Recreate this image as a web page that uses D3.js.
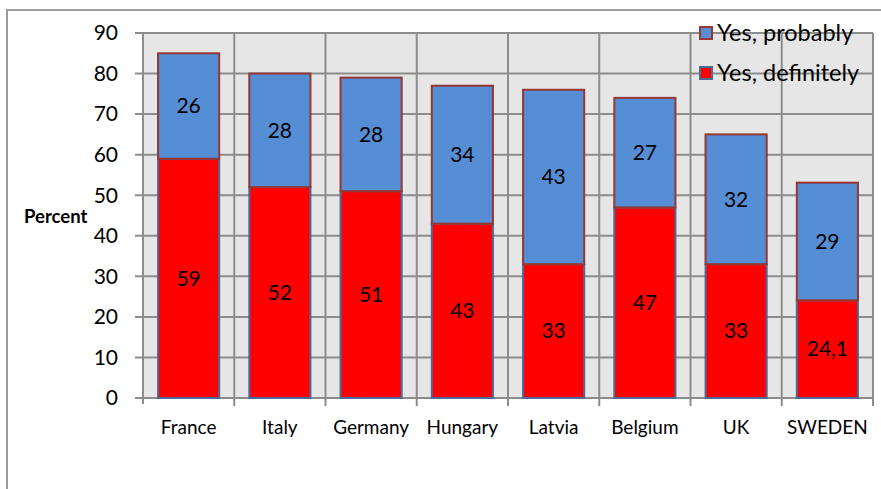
<!DOCTYPE html>
<html><head><meta charset="utf-8">
<script src="https://cdn.jsdelivr.net/npm/d3@7"></script>
<style>body{margin:0;background:#fff}svg{display:block}text{font-family:Lato,"Open Sans",sans-serif}</style>
</head><body><svg id="c" width="881" height="489"></svg>
<script>
const categories = ["France","Italy","Germany","Hungary","Latvia","Belgium","UK","SWEDEN"];
const definitely = [59,52,51,43,33,47,33,24.1];
const probably = [26,28,28,34,43,27,32,29];
const defLabels = ["59","52","51","43","33","47","33","24,1"];
const probLabels = ["26","28","28","34","43","27","32","29"];
const yTicks = [0,10,20,30,40,50,60,70,80,90];
const seriesNames = ["Yes, probably","Yes, definitely"];

const svg = d3.select("#c");
const L=143,R=873,T=33,B=398;
const x = d3.scaleBand().domain(categories).range([L,R]).paddingInner(0.33).paddingOuter(0.165);
const xb = d3.scaleBand().domain(categories).range([L,R]);
const y = d3.scaleLinear().domain([0,90]).range([B,T]);

// outer border
svg.append("path").attr("d","M7,489V10H881").attr("fill","none").attr("stroke","#9c9c9c").attr("stroke-width",2);

// plot bg
svg.append("rect").attr("x",L).attr("y",T).attr("width",R-L).attr("height",B-T).attr("fill","#e6e6e6");
// grid
svg.append("g").selectAll("line").data(yTicks).join("line")
  .attr("x1",L-8).attr("x2",R).attr("y1",d=>y(d)).attr("y2",d=>y(d))
  .attr("stroke","#8c8c8c").attr("stroke-width",2);
svg.append("g").selectAll("line").data(categories).join("line")
  .attr("x1",d=>xb(d)+xb.step()).attr("x2",d=>xb(d)+xb.step())
  .attr("y1",T).attr("y2",B+8).attr("stroke","#8c8c8c").attr("stroke-width",2);
svg.append("line").attr("x1",L).attr("x2",L).attr("y1",T).attr("y2",B+6).attr("stroke","#8c8c8c").attr("stroke-width",2);

// y labels
svg.append("g").selectAll("text").data(yTicks).join("text")
  .attr("x",118).attr("y",d=>y(d)).attr("dy","0.35em").attr("text-anchor","end")
  .attr("font-size",21).text(d=>d);
svg.append("text").attr("x",24).attr("y",223).attr("font-size",18.5).attr("font-weight","bold").text("Percent");

// bars
const g = svg.append("g");
categories.forEach((c,i)=>{
  g.append("rect").attr("x",x(c)).attr("width",x.bandwidth())
    .attr("y",y(definitely[i])).attr("height",y(0)-y(definitely[i]))
    .attr("fill","#ff0000").attr("stroke","#4a6b9a").attr("stroke-width",2);
  g.append("rect").attr("x",x(c)).attr("width",x.bandwidth())
    .attr("y",y(definitely[i]+probably[i])).attr("height",y(0)-y(probably[i]))
    .attr("fill","#558ed5").attr("stroke","#953735").attr("stroke-width",2);
  g.append("text").attr("x",x(c)+x.bandwidth()/2).attr("y",y(definitely[i]/2)).attr("dy","0.35em")
    .attr("text-anchor","middle").attr("font-size",21).text(defLabels[i]);
  g.append("text").attr("x",x(c)+x.bandwidth()/2).attr("y",y(definitely[i]+probably[i]/2)).attr("dy","0.35em")
    .attr("text-anchor","middle").attr("font-size",21).text(probLabels[i]);
});

// x labels
svg.append("g").selectAll("text").data(categories).join("text")
  .attr("x",d=>x(d)+x.bandwidth()/2).attr("y",427).attr("dy","0.35em").attr("text-anchor","middle")
  .attr("font-size",19).text(d=>d);

// legend
const leg = [{n:seriesNames[0],f:"#558ed5",s:"#953735",y:33},{n:seriesNames[1],f:"#ff0000",s:"#4a6b9a",y:73}];
leg.forEach(l=>{
  svg.append("rect").attr("x",700).attr("y",l.y-6).attr("width",12).attr("height",12).attr("fill",l.f).attr("stroke",l.s).attr("stroke-width",2);
  svg.append("text").attr("x",717).attr("y",l.y).attr("dy","0.35em").attr("font-size",23.5).text(l.n);
});
</script></body></html>
